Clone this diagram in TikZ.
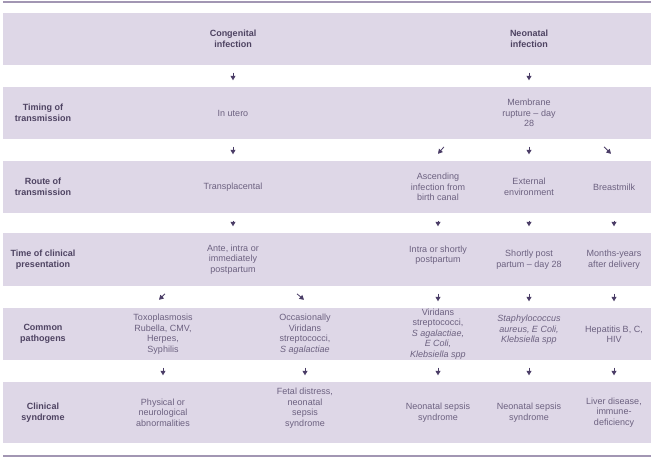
\documentclass[tikz,border=0pt]{standalone}
\usepackage{fontspec}
\setmainfont{Liberation Sans}
\usetikzlibrary{arrows.meta, positioning}
\definecolor{PathLavender}{HTML}{DED7E7}
\definecolor{PathPlum}{HTML}{4A3C66}
\definecolor{PathGrey}{HTML}{6C6180}
\definecolor{PathInk}{HTML}{4E4362}
\definecolor{PathRule}{HTML}{A296B3}
\colorlet{BandFill}{PathLavender}
\colorlet{ArrowInk}{PathPlum}
\colorlet{CellText}{PathGrey}
\colorlet{HeadText}{PathInk}
\tikzset{
  band/.style={fill=BandFill, minimum width=648pt, inner sep=0pt},
  cell/.style={align=center, inner sep=0pt, text=CellText, font=\fontsize{9}{10.5}\selectfont},
  rowhead/.style={cell, text=HeadText, font=\fontsize{9}{10.5}\selectfont\bfseries},
  branch/.style={draw=ArrowInk, line width=0.8pt, -{Triangle[length=4.5pt, width=5pt]}},
  flow/.style={branch, shorten <=7.5pt, shorten >=6.5pt},
}
\begin{document}
\begin{tikzpicture}[x=1pt, y=-1pt]
    \useasboundingbox (0,0) rectangle (656,458);

    % Rules
    \draw[PathRule, line width=1.2pt] (3,2) -- (651,2);
    \draw[PathRule, line width=1.2pt] (3,456) -- (651,456);

    % Bands
    \node[band, minimum height=52pt] (band1) at (327,39) {};
    \node[band, minimum height=52pt] (band2) at (327,113) {};
    \node[band, minimum height=52pt] (band3) at (327,187) {};
    \node[band, minimum height=53pt] (band4) at (327,259.5) {};
    \node[band, minimum height=52pt] (band5) at (327,334) {};
    \node[band, minimum height=61pt] (band6) at (327,412.5) {};

    % Infection type
    \begin{scope}[every node/.append style={minimum height=52pt}]
    \node[rowhead] (cong) at (233,39) {Congenital\\infection};
    \node[rowhead] (neo) at (529,39) {Neonatal\\infection};
    \end{scope}

    % Timing of transmission
    \begin{scope}[every node/.append style={minimum height=52pt}]
    \node[rowhead] (timing) at (43,113) {Timing of\\transmission};
    \node[cell] (utero) at (233,113) {In utero};
    \node[cell] (membrane) at (529,113) {Membrane\\rupture -- day\\28};
    \end{scope}

    % Route of transmission
    \begin{scope}[every node/.append style={minimum height=52pt}]
    \node[rowhead] (route) at (43,187) {Route of\\transmission};
    \node[cell] (transp) at (233,187) {Transplacental};
    \node[cell] (ascend) at (438,187) {Ascending\\infection from\\birth canal};
    \node[cell] (extern) at (529,187) {External\\environment};
    \node[cell] (breast) at (614,187) {Breastmilk};
    \end{scope}

    % Time of clinical presentation
    \begin{scope}[every node/.append style={minimum height=53pt}]
    \node[rowhead] (present) at (43,259.5) {Time of clinical\\presentation};
    \node[cell] (ante) at (233,259.5) {Ante, intra or\\immediately\\postpartum};
    \node[cell] (intra) at (438,259.5) {Intra or shortly\\postpartum\\\mbox{}};
    \node[cell] (shortly) at (529,259.5) {Shortly post\\partum -- day 28};
    \node[cell] (months) at (614,259.5) {Months-years\\after delivery};
    \end{scope}

    % Common pathogens
    \begin{scope}[every node/.append style={minimum height=52pt}]
    \node[rowhead] (pathog) at (43,334) {Common\\pathogens};
    \node[cell] (toxo) at (163,334) {Toxoplasmosis\\Rubella, CMV,\\Herpes,\\Syphilis};
    \node[cell] (occas) at (305,334) {Occasionally\\Viridans\\streptococci,\\\textit{S agalactiae}};
    \node[cell] (virid) at (438,334) {Viridans\\streptococci,\\\textit{S agalactiae,}\\\textit{E Coli,}\\\textit{Klebsiella spp}};
    \node[cell] (staph) at (529,334) {\textit{Staphylococcus}\\\textit{aureus, E Coli,}\\\textit{Klebsiella spp}\\\mbox{}};
    \node[cell] (hepat) at (614,334) {Hepatitis B, C,\\HIV};
    \end{scope}

    % Clinical syndrome
    \begin{scope}[every node/.append style={minimum height=61pt}]
    \node[rowhead] (syndr) at (43,412.5) {Clinical\\syndrome};
    \node[cell] (physic) at (163,412.5) {Physical or\\neurological\\abnormalities};
    \node[cell] (fetal) at (305,412.5) {Fetal distress,\\neonatal\\sepsis\\syndrome\\\mbox{}};
    \node[cell] (sepsisA) at (438,412.5) {Neonatal sepsis\\syndrome};
    \node[cell] (sepsisB) at (529,412.5) {Neonatal sepsis\\syndrome};
    \node[cell] (liver) at (614,412.5) {Liver disease,\\immune-\\deficiency};
    \end{scope}

    % Arrows
    \draw[flow] (cong) -- (utero);
    \draw[flow] (neo) -- (membrane);
    \draw[flow] (utero) -- (transp);
    \draw[flow] (membrane) -- (extern);
    \coordinate (forkA) at ([xshift=6pt, yshift=14pt]ascend.north);
    \coordinate (forkB) at ([xshift=-10pt, yshift=14pt]breast.north);
    \draw[branch] (forkA) -- ([yshift=7pt]ascend.north);
    \draw[branch] (forkB) -- ([xshift=-3pt, yshift=7pt]breast.north);
    \draw[flow] (transp) -- (ante);
    \draw[flow] (ascend) -- (intra);
    \draw[flow] (extern) -- (shortly);
    \draw[flow] (breast) -- (months);
    \coordinate (forkC) at ([xshift=2pt, yshift=14pt]toxo.north);
    \coordinate (forkD) at ([xshift=-8pt, yshift=14pt]occas.north);
    \draw[branch] (forkC) -- ([xshift=-4pt, yshift=8pt]toxo.north);
    \draw[branch] (forkD) -- ([xshift=-1pt, yshift=8pt]occas.north);
    \draw[flow] (intra) -- (virid);
    \draw[flow] (shortly) -- (staph);
    \draw[flow] (months) -- (hepat);
    \draw[flow] (toxo) -- (physic);
    \draw[flow] (occas) -- (fetal);
    \draw[flow] (virid) -- (sepsisA);
    \draw[flow] (staph) -- (sepsisB);
    \draw[flow] (hepat) -- (liver);

\end{tikzpicture}
\end{document}
